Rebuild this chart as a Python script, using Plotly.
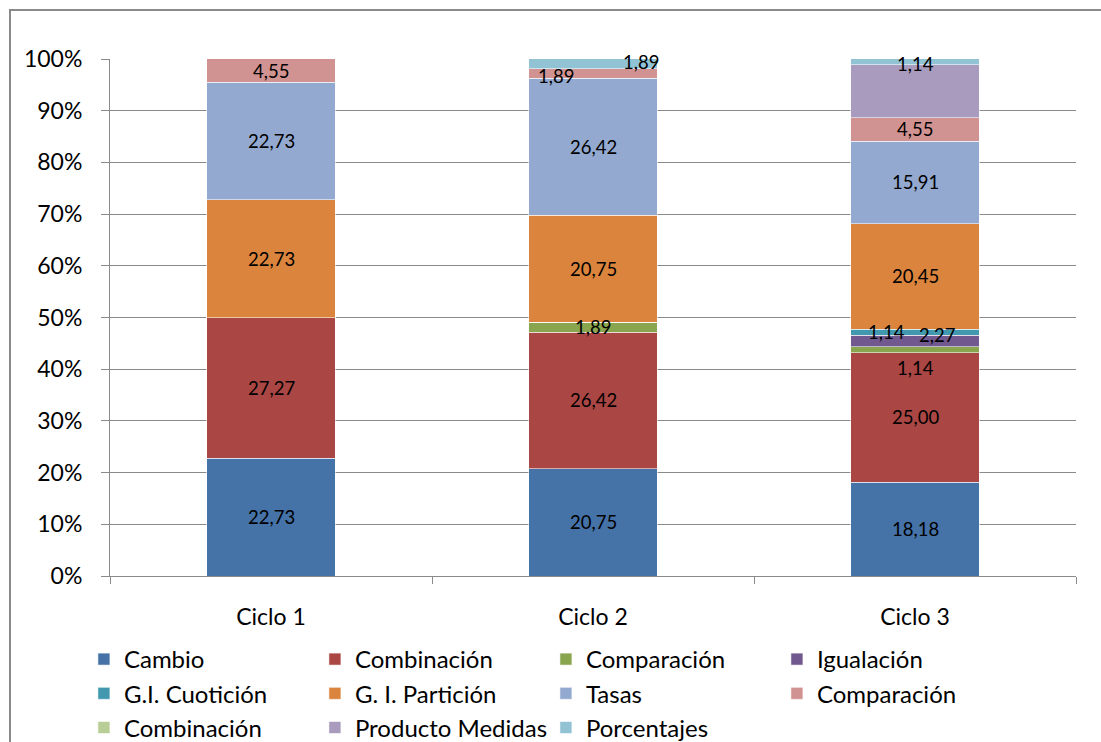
import plotly.graph_objects as go

categories = ["Ciclo 1", "Ciclo 2", "Ciclo 3"]

series_names = ["Cambio", "Combinación", "Comparación", "Igualación",
                "G.I. Cuotición", "G. I. Partición", "Tasas", "Comparación ",
                "Combinación ", "Producto Medidas", "Porcentajes"]

cambio = [22.73, 20.75, 18.18]
combinacion = [27.27, 26.42, 25.00]
comparacion = [0, 1.89, 1.14]
igualacion = [0, 0, 2.27]
gi_cuoticion = [0, 0, 1.14]
gi_particion = [22.73, 20.75, 20.45]
tasas = [22.73, 26.42, 15.91]
comparacion2 = [4.55, 1.89, 4.55]
combinacion2 = [0, 0, 0]
producto_medidas = [0, 0, 10.23]
porcentajes = [0, 1.89, 1.14]

series_values = [cambio, combinacion, comparacion, igualacion, gi_cuoticion,
                 gi_particion, tasas, comparacion2, combinacion2,
                 producto_medidas, porcentajes]

colors = ["#4572A7", "#AA4643", "#89A54E", "#71588F", "#4198AF", "#DB843D",
          "#93A9CF", "#D19392", "#B9CD96", "#A99BBD", "#92C3D4"]

# series whose labels are hidden (as in the reference)
hidden_labels = {"Producto Medidas", "Combinación "}

# manual label nudges (pixels) for crowded segments: (series index, category index) -> (dx, dy)
label_nudge = {
    (7, 1): (-37, -2),
    (10, 1): (48, 2),
    (4, 2): (-29, 0),
    (3, 2): (22, 6),
    (2, 2): (0, -18),
    (10, 2): (0, -2),
}

FONT = "Lato, 'Open Sans', sans-serif"

fig = go.Figure()
for name, vals, col in zip(series_names, series_values, colors):
    fig.add_trace(go.Bar(
        name=name.strip(), x=categories, y=vals,
        marker=dict(color=col, line=dict(color="rgba(255,255,255,0.55)", width=1)),
        hoverinfo="name+y",
    ))

annotations = []
cum = [0.0] * len(categories)
for si, (name, vals) in enumerate(zip(series_names, series_values)):
    for ci, v in enumerate(vals):
        if v > 0 and name not in hidden_labels:
            dx, dy = label_nudge.get((si, ci), (0, 0))
            annotations.append(dict(
                x=categories[ci], y=cum[ci] + v / 2, xref="x", yref="y",
                text=f"{v:.2f}".replace(".", ","), showarrow=False,
                xshift=dx, yshift=dy,
                font=dict(family=FONT, size=18.5, color="#000000"),
            ))
        cum[ci] += v

PW, PH = 966, 517
fig.update_layout(
    barmode="stack",
    bargap=0.6,
    width=1101, height=742,
    margin=dict(l=110, r=25, t=59, b=166, autoexpand=False),
    paper_bgcolor="white", plot_bgcolor="white",
    font=dict(family=FONT, size=23, color="#000000"),
    annotations=annotations,
    showlegend=True,
    legend=dict(
        orientation="h", x=-0.027, y=-0.118, xanchor="left", yanchor="top",
        entrywidth=186, entrywidthmode="pixels", traceorder="normal",
        itemwidth=30, font=dict(family=FONT, size=24, color="#000000"),
        tracegroupgap=0,
    ),
    shapes=[dict(type="rect", xref="paper", yref="paper",
                 x0=(10 - 110) / PW, x1=1.2, y0=-0.6, y1=1 + (59 - 10) / PH,
                 line=dict(color="#8a8a8a", width=2), fillcolor="rgba(0,0,0,0)",
                 layer="below")],
)

fig.update_xaxes(
    type="category", showline=True, linecolor="#8a8a8a", linewidth=1,
    ticks="outside", tickson="boundaries", ticklen=7, tickcolor="#8a8a8a",
    showgrid=False, tickfont=dict(family=FONT, size=23), ticklabelstandoff=20,
)
fig.update_yaxes(
    range=[0, 100], dtick=10, ticksuffix="%", showline=True,
    linecolor="#8a8a8a", linewidth=1, ticks="outside", ticklen=8,
    tickcolor="#8a8a8a", showgrid=True, gridcolor="#8a8a8a", gridwidth=1,
    zeroline=False, tickfont=dict(family=FONT, size=23), ticklabelstandoff=14,
)

fig.write_html(
    "out.html",
    config={"displayModeBar": False},
    post_script="document.body.style.margin='0';document.body.style.overflow='hidden';",
)
